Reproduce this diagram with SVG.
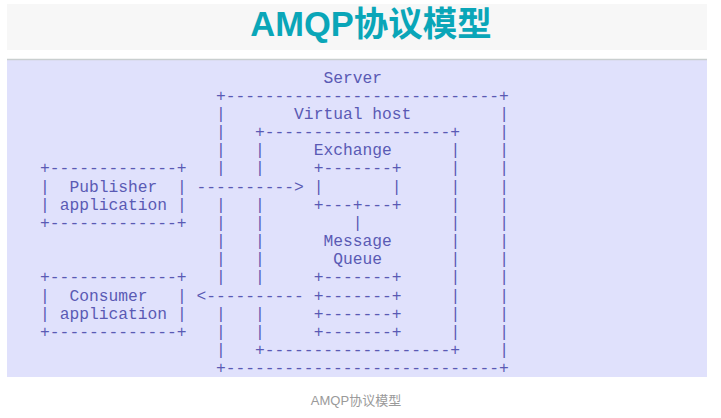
<svg xmlns="http://www.w3.org/2000/svg" width="721" height="418" viewBox="0 0 721 418">
<style>
.a{font-family:"Liberation Mono","Courier New",monospace;font-size:16.28px;fill:#5a5ab4;white-space:pre}
.title{font-family:"Liberation Sans","Noto Sans CJK SC",sans-serif;font-weight:bold;font-size:34.5px;fill:#0aa6b8}
.cap{font-family:"Liberation Sans","Noto Sans CJK SC",sans-serif;font-size:13px;fill:#9a9a9a}
</style>
<rect x="0" y="0" width="721" height="418" fill="#ffffff"/>
<rect x="7" y="4" width="700" height="46" fill="#f7f7f7"/>
<text class="title" x="371" y="36" text-anchor="middle">AMQP协议模型</text>
<rect x="7" y="60" width="700" height="317" fill="#e0e1fc"/>
<line x1="7" y1="59.5" x2="707" y2="59.5" stroke="#c9cfcf" stroke-width="1.5"/>

<g id="server">
<text class="a"><tspan x="323.43" y="82.5">Server</tspan><tspan x="215.96" y="100.67">+----------------------------+</tspan><tspan x="215.96" y="373.22">+----------------------------+</tspan></text>
<text class="a"><tspan x="215.96" y="118.84">|</tspan><tspan x="215.96" y="137.01">|</tspan><tspan x="215.96" y="155.18">|</tspan><tspan x="215.96" y="173.35">|</tspan><tspan x="215.96" y="209.69">|</tspan><tspan x="215.96" y="227.86">|</tspan><tspan x="215.96" y="246.03">|</tspan><tspan x="215.96" y="264.2">|</tspan><tspan x="215.96" y="282.37">|</tspan><tspan x="215.96" y="318.71">|</tspan><tspan x="215.96" y="336.88">|</tspan><tspan x="215.96" y="355.05">|</tspan></text>
<text class="a"><tspan x="499.29" y="118.84">|</tspan><tspan x="499.29" y="137.01">|</tspan><tspan x="499.29" y="155.18">|</tspan><tspan x="499.29" y="173.35">|</tspan><tspan x="499.29" y="191.52">|</tspan><tspan x="499.29" y="209.69">|</tspan><tspan x="499.29" y="227.86">|</tspan><tspan x="499.29" y="246.03">|</tspan><tspan x="499.29" y="264.2">|</tspan><tspan x="499.29" y="282.37">|</tspan><tspan x="499.29" y="300.54">|</tspan><tspan x="499.29" y="318.71">|</tspan><tspan x="499.29" y="336.88">|</tspan><tspan x="499.29" y="355.05">|</tspan></text>
</g>

<g id="virtual-host">
<text class="a"><tspan x="294.12" y="118.84">Virtual host</tspan><tspan x="255.04" y="137.01">+-------------------+</tspan><tspan x="255.04" y="355.05">+-------------------+</tspan></text>
<text class="a"><tspan x="255.04" y="155.18">|</tspan><tspan x="255.04" y="173.35">|</tspan><tspan x="255.04" y="209.69">|</tspan><tspan x="255.04" y="227.86">|</tspan><tspan x="255.04" y="246.03">|</tspan><tspan x="255.04" y="264.2">|</tspan><tspan x="255.04" y="282.37">|</tspan><tspan x="255.04" y="318.71">|</tspan><tspan x="255.04" y="336.88">|</tspan></text>
<text class="a"><tspan x="450.44" y="155.18">|</tspan><tspan x="450.44" y="173.35">|</tspan><tspan x="450.44" y="191.52">|</tspan><tspan x="450.44" y="209.69">|</tspan><tspan x="450.44" y="227.86">|</tspan><tspan x="450.44" y="246.03">|</tspan><tspan x="450.44" y="264.2">|</tspan><tspan x="450.44" y="282.37">|</tspan><tspan x="450.44" y="300.54">|</tspan><tspan x="450.44" y="318.71">|</tspan><tspan x="450.44" y="336.88">|</tspan></text>
</g>

<g id="exchange">
<text class="a"><tspan x="313.66" y="155.18">Exchange</tspan><tspan x="313.66" y="173.35">+-------+</tspan><tspan x="313.66" y="191.52">|</tspan><tspan x="391.82" y="191.52">|</tspan><tspan x="313.66" y="209.69">+---+---+</tspan></text>
</g>

<g id="message-queue">
<text class="a"><tspan x="323.43" y="246.03">Message</tspan><tspan x="333.2" y="264.2">Queue</tspan><tspan x="313.66" y="282.37">+-------+</tspan><tspan x="313.66" y="300.54">+-------+</tspan><tspan x="313.66" y="318.71">+-------+</tspan><tspan x="313.66" y="336.88">+-------+</tspan></text>
</g>

<g id="publisher">
<text class="a"><tspan x="40.1" y="173.35">+-------------+</tspan><tspan x="40.1" y="191.52">|</tspan><tspan x="69.41" y="191.52">Publisher</tspan><tspan x="176.88" y="191.52">|</tspan><tspan x="40.1" y="209.69">|</tspan><tspan x="59.64" y="209.69">application</tspan><tspan x="176.88" y="209.69">|</tspan><tspan x="40.1" y="227.86">+-------------+</tspan></text>
</g>

<g id="consumer">
<text class="a"><tspan x="40.1" y="282.37">+-------------+</tspan><tspan x="40.1" y="300.54">|</tspan><tspan x="69.41" y="300.54">Consumer</tspan><tspan x="176.88" y="300.54">|</tspan><tspan x="40.1" y="318.71">|</tspan><tspan x="59.64" y="318.71">application</tspan><tspan x="176.88" y="318.71">|</tspan><tspan x="40.1" y="336.88">+-------------+</tspan></text>
</g>

<g id="connectors">
<text class="a" x="196.42" y="191.52">----------&gt;</text>
<text class="a" x="352.74" y="227.86">|</text>
<text class="a" x="196.42" y="300.54">&lt;----------</text>
</g>

<text class="cap" x="356" y="405" text-anchor="middle">AMQP协议模型</text>
</svg>
